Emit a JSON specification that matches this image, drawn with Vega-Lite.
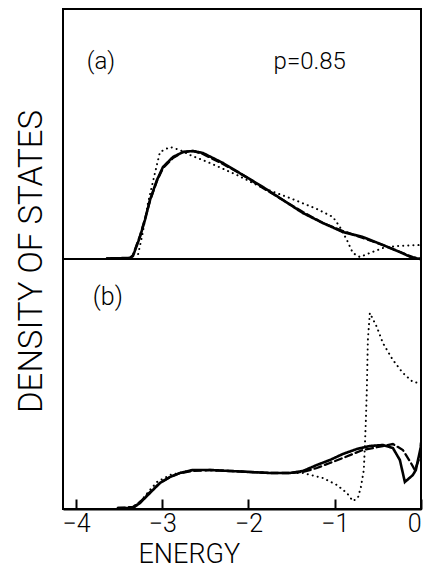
{
  "$schema": "https://vega.github.io/schema/vega-lite/v6.json",
  "autosize": {"type": "none"},
  "width": 358,
  "height": 500,
  "padding": {"left": 63, "top": 9, "right": 2, "bottom": 60},
  "background": "white",
  "config": {
    "view": {"stroke": "black", "strokeWidth": 2},
    "font": "Roboto",
    "axis": {"grid": false, "labelColor": "black", "titleColor": "black", "domainColor": "black", "tickColor": "black"},
    "text": {"font": "Roboto", "fontWeight": 300, "color": "black"}
  },
  "datasets": {
    "a": [
      {"E": -3.64, "d": 0.005, "s": "solid"}, {"E": -3.374, "d": 0.01, "s": "solid"}, {"E": -3.339, "d": 0.03, "s": "solid"},
      {"E": -3.258, "d": 0.22, "s": "solid"}, {"E": -3.2, "d": 0.39, "s": "solid"}, {"E": -3.142, "d": 0.59, "s": "solid"},
      {"E": -3.061, "d": 0.79, "s": "solid"}, {"E": -2.991, "d": 0.92, "s": "solid"}, {"E": -2.875, "d": 1.02, "s": "solid"},
      {"E": -2.759, "d": 1.07, "s": "solid"}, {"E": -2.644, "d": 1.08, "s": "solid"}, {"E": -2.528, "d": 1.06, "s": "solid"},
      {"E": -2.296, "d": 0.96, "s": "solid"}, {"E": -2.064, "d": 0.84, "s": "solid"}, {"E": -1.832, "d": 0.72, "s": "solid"},
      {"E": -1.601, "d": 0.59, "s": "solid"}, {"E": -1.369, "d": 0.46, "s": "solid"}, {"E": -1.137, "d": 0.36, "s": "solid"},
      {"E": -0.906, "d": 0.27, "s": "solid"}, {"E": -0.674, "d": 0.22, "s": "solid"}, {"E": -0.442, "d": 0.14, "s": "solid"},
      {"E": -0.245, "d": 0.07, "s": "solid"}, {"E": -0.094, "d": 0.01, "s": "solid"}, {"E": 0.0, "d": 0.0, "s": "solid"},

      {"E": -3.64, "d": 0.005, "s": "dashed"}, {"E": -3.374, "d": 0.01, "s": "dashed"}, {"E": -3.339, "d": 0.04, "s": "dashed"},
      {"E": -3.258, "d": 0.23, "s": "dashed"}, {"E": -3.2, "d": 0.40, "s": "dashed"}, {"E": -3.142, "d": 0.58, "s": "dashed"},
      {"E": -3.061, "d": 0.78, "s": "dashed"}, {"E": -2.991, "d": 0.91, "s": "dashed"}, {"E": -2.875, "d": 1.01, "s": "dashed"},
      {"E": -2.759, "d": 1.07, "s": "dashed"}, {"E": -2.644, "d": 1.08, "s": "dashed"}, {"E": -2.528, "d": 1.05, "s": "dashed"},
      {"E": -2.296, "d": 0.95, "s": "dashed"}, {"E": -2.064, "d": 0.84, "s": "dashed"}, {"E": -1.832, "d": 0.71, "s": "dashed"},
      {"E": -1.601, "d": 0.59, "s": "dashed"}, {"E": -1.369, "d": 0.47, "s": "dashed"}, {"E": -1.137, "d": 0.36, "s": "dashed"},
      {"E": -0.906, "d": 0.28, "s": "dashed"}, {"E": -0.674, "d": 0.21, "s": "dashed"}, {"E": -0.442, "d": 0.14, "s": "dashed"},
      {"E": -0.245, "d": 0.07, "s": "dashed"}, {"E": -0.094, "d": 0.02, "s": "dashed"}, {"E": 0.0, "d": 0.0, "s": "dashed"},

      {"E": -3.292, "d": 0.0, "s": "dotted"}, {"E": -3.235, "d": 0.22, "s": "dotted"}, {"E": -3.165, "d": 0.56, "s": "dotted"},
      {"E": -3.084, "d": 0.86, "s": "dotted"}, {"E": -3.026, "d": 1.07, "s": "dotted"}, {"E": -2.91, "d": 1.12, "s": "dotted"},
      {"E": -2.794, "d": 1.09, "s": "dotted"}, {"E": -2.678, "d": 1.04, "s": "dotted"}, {"E": -2.447, "d": 0.96, "s": "dotted"},
      {"E": -2.134, "d": 0.84, "s": "dotted"}, {"E": -1.832, "d": 0.71, "s": "dotted"}, {"E": -1.52, "d": 0.61, "s": "dotted"},
      {"E": -1.207, "d": 0.50, "s": "dotted"}, {"E": -1.021, "d": 0.42, "s": "dotted"}, {"E": -0.94, "d": 0.32, "s": "dotted"},
      {"E": -0.859, "d": 0.19, "s": "dotted"}, {"E": -0.79, "d": 0.06, "s": "dotted"}, {"E": -0.71, "d": 0.02, "s": "dotted"},
      {"E": -0.593, "d": 0.06, "s": "dotted"}, {"E": -0.442, "d": 0.11, "s": "dotted"}, {"E": -0.28, "d": 0.13, "s": "dotted"},
      {"E": 0.0, "d": 0.14, "s": "dotted"}
    ],
    "b": [
      {"E": -3.513, "d": 0.01, "s": "solid"}, {"E": -3.339, "d": 0.01, "s": "solid"}, {"E": -3.258, "d": 0.06, "s": "solid"},
      {"E": -3.142, "d": 0.16, "s": "solid"}, {"E": -3.026, "d": 0.26, "s": "solid"}, {"E": -2.91, "d": 0.32, "s": "solid"},
      {"E": -2.794, "d": 0.36, "s": "solid"}, {"E": -2.644, "d": 0.39, "s": "solid"}, {"E": -2.447, "d": 0.39, "s": "solid"},
      {"E": -2.215, "d": 0.38, "s": "solid"}, {"E": -1.983, "d": 0.37, "s": "solid"}, {"E": -1.751, "d": 0.36, "s": "solid"},
      {"E": -1.52, "d": 0.36, "s": "solid"}, {"E": -1.369, "d": 0.38, "s": "solid"}, {"E": -1.207, "d": 0.44, "s": "solid"},
      {"E": -1.056, "d": 0.49, "s": "solid"}, {"E": -0.906, "d": 0.55, "s": "solid"}, {"E": -0.743, "d": 0.60, "s": "solid"},
      {"E": -0.593, "d": 0.63, "s": "solid"}, {"E": -0.442, "d": 0.64, "s": "solid"}, {"E": -0.326, "d": 0.61, "s": "solid"},
      {"E": -0.245, "d": 0.49, "s": "solid"}, {"E": -0.187, "d": 0.27, "s": "solid"}, {"E": -0.094, "d": 0.34, "s": "solid"},
      {"E": -0.06, "d": 0.39, "s": "solid"}, {"E": -0.002, "d": 0.62, "s": "solid"}, {"E": 0.0, "d": 0.66, "s": "solid"},

      {"E": -3.513, "d": 0.01, "s": "dashed"}, {"E": -3.339, "d": 0.02, "s": "dashed"}, {"E": -3.258, "d": 0.07, "s": "dashed"},
      {"E": -3.142, "d": 0.17, "s": "dashed"}, {"E": -3.026, "d": 0.26, "s": "dashed"}, {"E": -2.91, "d": 0.32, "s": "dashed"},
      {"E": -2.794, "d": 0.36, "s": "dashed"}, {"E": -2.644, "d": 0.38, "s": "dashed"}, {"E": -2.447, "d": 0.39, "s": "dashed"},
      {"E": -2.215, "d": 0.38, "s": "dashed"}, {"E": -1.983, "d": 0.37, "s": "dashed"}, {"E": -1.751, "d": 0.36, "s": "dashed"},
      {"E": -1.52, "d": 0.36, "s": "dashed"}, {"E": -1.369, "d": 0.37, "s": "dashed"}, {"E": -1.207, "d": 0.41, "s": "dashed"},
      {"E": -1.056, "d": 0.46, "s": "dashed"}, {"E": -0.906, "d": 0.51, "s": "dashed"}, {"E": -0.674, "d": 0.59, "s": "dashed"},
      {"E": -0.442, "d": 0.63, "s": "dashed"}, {"E": -0.326, "d": 0.65, "s": "dashed"}, {"E": -0.21, "d": 0.59, "s": "dashed"},
      {"E": -0.117, "d": 0.46, "s": "dashed"}, {"E": -0.071, "d": 0.39, "s": "dashed"}, {"E": -0.013, "d": 0.52, "s": "dashed"},
      {"E": 0.0, "d": 0.64, "s": "dashed"},

      {"E": -3.339, "d": 0.01, "s": "dotted"}, {"E": -3.258, "d": 0.07, "s": "dotted"}, {"E": -3.142, "d": 0.19, "s": "dotted"},
      {"E": -3.061, "d": 0.27, "s": "dotted"}, {"E": -2.91, "d": 0.34, "s": "dotted"}, {"E": -2.644, "d": 0.39, "s": "dotted"},
      {"E": -2.215, "d": 0.38, "s": "dotted"}, {"E": -1.751, "d": 0.36, "s": "dotted"}, {"E": -1.369, "d": 0.36, "s": "dotted"},
      {"E": -1.137, "d": 0.31, "s": "dotted"}, {"E": -0.975, "d": 0.24, "s": "dotted"}, {"E": -0.859, "d": 0.16, "s": "dotted"},
      {"E": -0.79, "d": 0.08, "s": "dotted"}, {"E": -0.732, "d": 0.11, "s": "dotted"}, {"E": -0.697, "d": 0.22, "s": "dotted"},
      {"E": -0.663, "d": 0.39, "s": "dotted"}, {"E": -0.651, "d": 0.62, "s": "dotted"}, {"E": -0.639, "d": 0.89, "s": "dotted"},
      {"E": -0.628, "d": 1.19, "s": "dotted"}, {"E": -0.616, "d": 1.69, "s": "dotted"}, {"E": -0.593, "d": 1.96, "s": "dotted"},
      {"E": -0.512, "d": 1.82, "s": "dotted"}, {"E": -0.442, "d": 1.66, "s": "dotted"}, {"E": -0.326, "d": 1.49, "s": "dotted"},
      {"E": -0.21, "d": 1.36, "s": "dotted"}, {"E": -0.094, "d": 1.27, "s": "dotted"}, {"E": 0.0, "d": 1.26, "s": "dotted"}
    ],
    "labelsA": [
      {"E": -3.71, "d": 1.97, "t": "(a)"}
    ],
    "labelsP": [
      {"E": -1.29, "d": 1.97, "t": "p=0.85"}
    ],
    "labelsB": [
      {"E": -3.63, "d": 2.12, "t": "(b)"}
    ],
    "base": [{"d": 0}]
  },
  "resolve": {"scale": {"y": "independent"}},
  "layer": [
    {
      "layer": [
        {
          "data": {"name": "a"},
          "mark": {"type": "line", "color": "black", "strokeCap": "round", "clip": true},
          "encoding": {
            "x": {"field": "E", "type": "quantitative", "scale": {"domain": [-4.15, 0], "nice": false, "zero": false},
                  "axis": {"values": [-4, -3, -2, -1, 0], "format": "d", "title": "ENERGY", "grid": false, "tickSize": -10, "tickWidth": 2, "labelPadding": 12, "labelFontSize": 25, "labelFont": "Roboto", "labelFontWeight": 300, "domainWidth": 2, "titleFont": "Roboto", "titleFontWeight": 300, "titleFontSize": 27, "titleX": 75, "titleAlign": "left", "titleY": 53, "titleBaseline": "alphabetic"}},
            "y": {"field": "d", "type": "quantitative", "scale": {"domain": [0, 2.5], "range": [250, 0], "nice": false}, "axis": null},
            "strokeDash": {"field": "s", "type": "nominal", "scale": {"domain": ["solid", "dashed", "dotted"], "range": [[1, 0], [7, 4], [0.1, 5]]}, "legend": null},
            "strokeWidth": {"field": "s", "type": "nominal", "scale": {"domain": ["solid", "dashed", "dotted"], "range": [2.6, 2, 2]}, "legend": null}
          }
        },
        {
          "data": {"name": "base"},
          "mark": {"type": "rule", "color": "black", "strokeWidth": 2},
          "encoding": {
            "y": {"field": "d", "type": "quantitative"}
          }
        },
        {
          "data": {"name": "labelsA"},
          "mark": {"type": "text", "fontSize": 24, "align": "center", "baseline": "middle"},
          "encoding": {
            "x": {"field": "E", "type": "quantitative"},
            "y": {"field": "d", "type": "quantitative"},
            "text": {"field": "t"}
          }
        },
        {
          "data": {"name": "labelsP"},
          "mark": {"type": "text", "fontSize": 24, "letterSpacing": 4.5, "align": "center", "baseline": "middle"},
          "encoding": {
            "x": {"field": "E", "type": "quantitative"},
            "y": {"field": "d", "type": "quantitative"},
            "text": {"field": "t"}
          }
        }
      ]
    },
    {
      "layer": [
        {
          "data": {"name": "b"},
          "mark": {"type": "line", "color": "black", "strokeCap": "round", "clip": true},
          "encoding": {
            "x": {"field": "E", "type": "quantitative"},
            "y": {"field": "d", "type": "quantitative", "scale": {"domain": [0, 2.5], "range": [500, 250], "nice": false},
                  "axis": {"orient": "left", "title": "DENSITY OF STATES", "labels": false, "ticks": false, "domain": false, "grid": false, "titleFont": "Roboto", "titleFontWeight": 300, "titleFontSize": 33, "titleAngle": -90, "titleX": -22, "titleY": 252, "titleAlign": "center", "titleBaseline": "alphabetic"}},
            "strokeDash": {"field": "s", "type": "nominal", "scale": {"domain": ["solid", "dashed", "dotted"], "range": [[1, 0], [7, 4], [0.1, 5]]}, "legend": null},
            "strokeWidth": {"field": "s", "type": "nominal", "scale": {"domain": ["solid", "dashed", "dotted"], "range": [2.6, 2, 2]}, "legend": null}
          }
        },
        {
          "data": {"name": "labelsB"},
          "mark": {"type": "text", "fontSize": 25, "align": "center", "baseline": "middle"},
          "encoding": {
            "x": {"field": "E", "type": "quantitative"},
            "y": {"field": "d", "type": "quantitative"},
            "text": {"field": "t"}
          }
        }
      ]
    }
  ]
}
